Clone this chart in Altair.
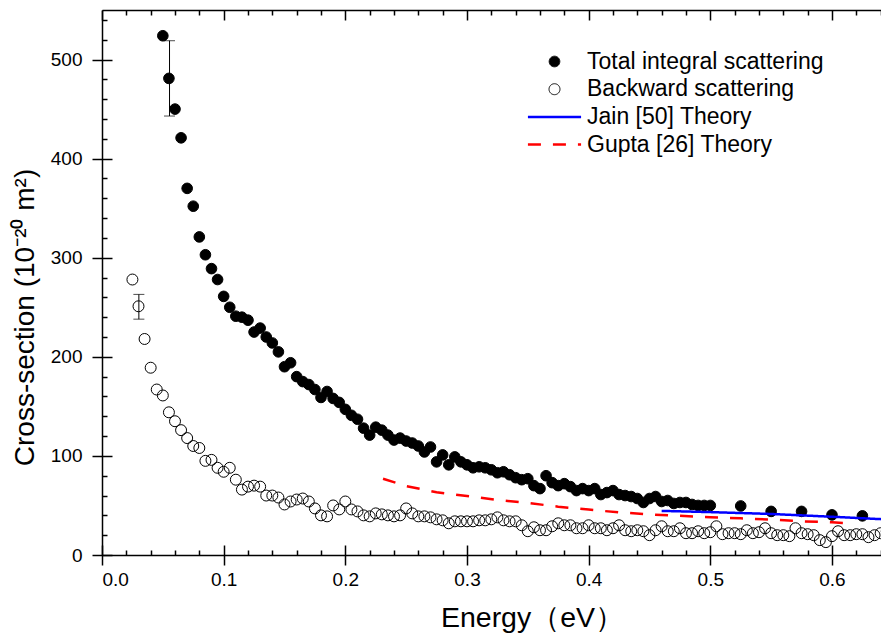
import altair as alt
import pandas as pd

S_TOTAL = "Total integral scattering"
S_BACK = "Backward scattering"
S_JAIN = "Jain [50] Theory"
S_GUPTA = "Gupta [26] Theory"
SERIES = [S_TOTAL, S_BACK, S_JAIN, S_GUPTA]

total_E = [0.050, 0.055, 0.060, 0.065, 0.070, 0.075, 0.080, 0.085, 0.090, 0.095,
           0.100, 0.105, 0.110, 0.115, 0.120, 0.125, 0.130, 0.135, 0.140, 0.145,
           0.150, 0.155, 0.160, 0.165, 0.170, 0.175, 0.180, 0.185, 0.190, 0.195,
           0.200, 0.205, 0.210, 0.215, 0.220, 0.225, 0.230, 0.235, 0.240, 0.245,
           0.250, 0.255, 0.260, 0.265, 0.270, 0.275, 0.280, 0.285, 0.290, 0.295,
           0.300, 0.305, 0.310, 0.315, 0.320, 0.325, 0.330, 0.335, 0.340, 0.345,
           0.350, 0.355, 0.360, 0.365, 0.370, 0.375, 0.380, 0.385, 0.390, 0.395,
           0.400, 0.405, 0.410, 0.415, 0.420, 0.425, 0.430, 0.435, 0.440, 0.445,
           0.450, 0.455, 0.460, 0.465, 0.470, 0.475, 0.480, 0.485, 0.490, 0.495,
           0.500, 0.525, 0.550, 0.575, 0.600, 0.625]
total_cs = [524, 481, 450, 421, 370, 352, 321, 303, 289, 278,
            261, 250, 241, 240, 237, 225, 229, 220, 214, 205,
            190, 194, 180, 175, 172, 167, 159, 165, 158, 154,
            147, 141, 137, 128, 121, 129, 126, 121, 116, 118,
            115, 113, 110, 104, 109, 94, 101, 91, 99, 94,
            91, 88, 89, 88, 86, 83, 84, 81, 78, 76,
            77, 70, 67, 80, 73, 70, 72, 69, 65, 67,
            65, 67, 61, 63, 65, 61, 60, 59, 57, 53,
            57, 59, 54, 55, 52, 53, 53, 51, 50, 50,
            50, 49.5, 44, 44, 40.5, 39.5]

back_E = [0.025, 0.030, 0.035, 0.040, 0.045, 0.050, 0.055, 0.060, 0.065, 0.070,
          0.075, 0.080, 0.085, 0.090, 0.095, 0.100, 0.105, 0.110, 0.115, 0.120,
          0.125, 0.130, 0.135, 0.140, 0.145, 0.150, 0.155, 0.160, 0.165, 0.170,
          0.175, 0.180, 0.185, 0.190, 0.195, 0.200, 0.205, 0.210, 0.215, 0.220,
          0.225, 0.230, 0.235, 0.240, 0.245, 0.250, 0.255, 0.260, 0.265, 0.270,
          0.275, 0.280, 0.285, 0.290, 0.295, 0.300, 0.305, 0.310, 0.315, 0.320,
          0.325, 0.330, 0.335, 0.340, 0.345, 0.350, 0.355, 0.360, 0.365, 0.370,
          0.375, 0.380, 0.385, 0.390, 0.395, 0.400, 0.405, 0.410, 0.415, 0.420,
          0.425, 0.430, 0.435, 0.440, 0.445, 0.450, 0.455, 0.460, 0.465, 0.470,
          0.475, 0.480, 0.485, 0.490, 0.495, 0.500, 0.505, 0.510, 0.515, 0.520,
          0.525, 0.530, 0.535, 0.540, 0.545, 0.550, 0.555, 0.560, 0.565, 0.570,
          0.575, 0.580, 0.585, 0.590, 0.595, 0.600, 0.605, 0.610, 0.615, 0.620,
          0.625, 0.630, 0.635, 0.640, 0.645]
back_cs = [278, 251, 218, 189, 167, 161, 144, 135, 126, 118,
           110, 108, 95, 96, 88, 84, 88, 76, 66, 69,
           70, 69, 60, 60, 58, 51, 54, 56, 57, 54,
           47, 40, 39, 50, 46, 54, 46, 44, 40, 39,
           42, 41, 40, 39, 40, 47, 42, 39, 39, 38,
           36, 35, 32, 34, 34, 34, 34, 35, 35, 36,
           38, 35, 34, 34, 30, 24, 28, 25, 25, 29,
           32, 30, 30, 27, 27, 30, 27, 27, 25, 27,
           30, 25, 24, 25, 24, 20, 25, 29, 24, 24,
           27, 22, 22, 24, 22, 23, 29, 21, 22, 22,
           21, 25, 22, 23, 27, 22, 20, 20, 19, 27,
           22, 21, 20, 15, 13, 19, 24, 20, 20, 21,
           21, 18, 20, 22, 24]

jain_E = [0.46, 0.50, 0.55, 0.60, 0.65]
jain_cs = [44.5, 43.3, 41.4, 38.6, 35.6]

gupta_E = [0.231, 0.250, 0.275, 0.300, 0.325, 0.350, 0.375, 0.400, 0.425,
           0.450, 0.475, 0.500, 0.525, 0.550, 0.575, 0.600, 0.612]
gupta_cs = [77, 69.5, 63.3, 59.5, 55.5, 52.5, 48.8, 45.8, 43,
            41, 39.5, 38, 37, 35.8, 34, 33, 32]

err_E = [0.0555, 0.0303]
err_lo = [443, 238]
err_hi = [519, 263]

x_major = [0.0, 0.1, 0.2, 0.3, 0.4, 0.5, 0.6]
x_minor = [0.02, 0.04, 0.06, 0.08, 0.12, 0.14, 0.16, 0.18, 0.22, 0.24, 0.26, 0.28,
           0.32, 0.34, 0.36, 0.38, 0.42, 0.44, 0.46, 0.48, 0.52, 0.54, 0.56, 0.58,
           0.62, 0.64]
y_major = [0, 100, 200, 300, 400, 500]
y_minor = [v for v in range(20, 560, 20) if v % 100 != 0]

FONT = "Liberation Sans"
LINE_SYMBOL = "M-5,0H5"

total_df = pd.DataFrame({"E": total_E, "cs": total_cs, "series": S_TOTAL})
back_df = pd.DataFrame({"E": back_E, "cs": back_cs, "series": S_BACK})
jain_df = pd.DataFrame({"E": jain_E, "cs": jain_cs, "series": S_JAIN})
gupta_df = pd.DataFrame({"E": gupta_E, "cs": gupta_cs, "series": S_GUPTA})
err_df = pd.DataFrame({"E": err_E, "lo": err_lo, "hi": err_hi})

# the picture is cut at its right edge, a little before the right frame
xs = alt.Scale(domain=[0, 0.6403], nice=False, zero=False)
ys = alt.Scale(domain=[0, 550], nice=False)

common_axis = dict(grid=False, domain=False, tickColor="black", tickWidth=1.5,
                   labelColor="black", labelFont=FONT, titleFont=FONT,
                   titleColor="black", titleFontWeight="normal")
frame_axis = dict(grid=False, ticks=False, labels=False, domain=True, domainColor="black",
                  domainWidth=1.5, title=None, offset=0)

x_main = alt.Axis(orient="bottom", offset=-10, tickSize=20, values=x_major, format=".1f",
                  labelFontSize=19, labelPadding=5, title="Energy（eV）", titleFontSize=28.5,
                  titleX=430, titleY=81, titleBaseline="alphabetic", **common_axis)
y_main = alt.Axis(orient="left", offset=-10, tickSize=20, values=y_major, format="d",
                  labelFontSize=19, labelPadding=10, title="Cross-section (10⁻²⁰ m²)",
                  titleFontSize=28, titleX=-79, titleY=307, titleBaseline="alphabetic",
                  **common_axis)
x_bmin = alt.Axis(orient="bottom", offset=-5, tickSize=5, values=x_minor, labels=False,
                  title=None, **common_axis)
y_lmin = alt.Axis(orient="left", offset=-5, tickSize=5, values=y_minor, labels=False,
                  title=None, **common_axis)
x_top = alt.Axis(orient="top", offset=-10, tickSize=10, values=x_major, labels=False,
                 title=None, **common_axis)
x_tmin = alt.Axis(orient="top", offset=-5, tickSize=5, values=x_minor, labels=False,
                  title=None, **common_axis)
x_bdom = alt.Axis(orient="bottom", **frame_axis)
x_tdom = alt.Axis(orient="top", **frame_axis)
y_ldom = alt.Axis(orient="left", **frame_axis)

legend = alt.Legend(orient="none", legendX=441, legendY=40, title=None, labelFont=FONT,
                    labelFontSize=23, labelColor="black", labelOffset=21, padding=0,
                    rowPadding=3.7, labelLimit=500)

stroke_enc = alt.Stroke("series:N", scale=alt.Scale(domain=SERIES,
                        range=["black", "black", "#0000ff", "#ff0000"]), legend=legend)
fill_enc = alt.Fill("series:N", scale=alt.Scale(domain=SERIES,
                    range=["black", "transparent", "transparent", "transparent"]), legend=legend)
shape_enc = alt.Shape("series:N", scale=alt.Scale(domain=SERIES,
                      range=["circle", "circle", LINE_SYMBOL, LINE_SYMBOL]), legend=legend)
size_enc = alt.Size("series:N", scale=alt.Scale(type="ordinal", domain=SERIES,
                    range=[113, 120, 113, 113]), legend=legend)
sw_enc = alt.StrokeWidth("series:N", scale=alt.Scale(type="ordinal", domain=SERIES,
                         range=[1, 1, 2.5, 2.5]), legend=legend)
dash_enc = alt.StrokeDash("series:N", scale=alt.Scale(domain=SERIES,
                          range=[[1, 0], [1, 0], [1, 0], [13, 12]]),
                          legend=legend)

err_rule = alt.Chart(err_df).mark_rule(color="black", strokeWidth=1).encode(
    x=alt.X("E:Q", scale=xs, axis=x_bdom), y=alt.Y("lo:Q", scale=ys, axis=y_ldom), y2="hi:Q")
err_lo_cap = alt.Chart(err_df).mark_tick(color="black", orient="horizontal", size=11,
                                         thickness=1).encode(
    x=alt.X("E:Q", scale=xs, axis=x_tdom), y=alt.Y("lo:Q", scale=ys, axis=None))
err_hi_cap = alt.Chart(err_df).mark_tick(color="black", orient="horizontal", size=11,
                                         thickness=1).encode(
    x=alt.X("E:Q", scale=xs, axis=None), y=alt.Y("hi:Q", scale=ys, axis=None))

total_layer = alt.Chart(total_df).mark_point(opacity=1, clip=True).encode(
    x=alt.X("E:Q", scale=xs, axis=x_main), y=alt.Y("cs:Q", scale=ys, axis=y_main),
    stroke=stroke_enc, fill=fill_enc, shape=shape_enc, size=size_enc, strokeWidth=sw_enc)
back_layer = alt.Chart(back_df).mark_point(opacity=1, clip=True).encode(
    x=alt.X("E:Q", scale=xs, axis=x_bmin), y=alt.Y("cs:Q", scale=ys, axis=y_lmin),
    stroke=stroke_enc, fill=fill_enc, shape=shape_enc, size=size_enc, strokeWidth=sw_enc)
jain_layer = alt.Chart(jain_df).mark_line(clip=True).encode(
    x=alt.X("E:Q", scale=xs, axis=x_top), y=alt.Y("cs:Q", scale=ys, axis=None),
    stroke=stroke_enc, strokeDash=dash_enc, strokeWidth=sw_enc)
gupta_layer = alt.Chart(gupta_df).mark_line(clip=True).encode(
    x=alt.X("E:Q", scale=xs, axis=x_tmin), y=alt.Y("cs:Q", scale=ys, axis=None),
    stroke=stroke_enc, strokeDash=dash_enc, strokeWidth=sw_enc)

chart = alt.layer(
    err_rule, err_lo_cap, err_hi_cap, back_layer, total_layer, jain_layer, gupta_layer
).resolve_axis(x="independent", y="independent").properties(
    width=779, height=545,
    autosize=alt.AutoSizeParams(type="none"),
    padding={"left": 94, "top": 2, "right": 0, "bottom": 80},
    background="white",
).configure_view(stroke="transparent").configure_axis(grid=False)

chart.save("out.html", embed_options={"renderer": "svg", "actions": False})
